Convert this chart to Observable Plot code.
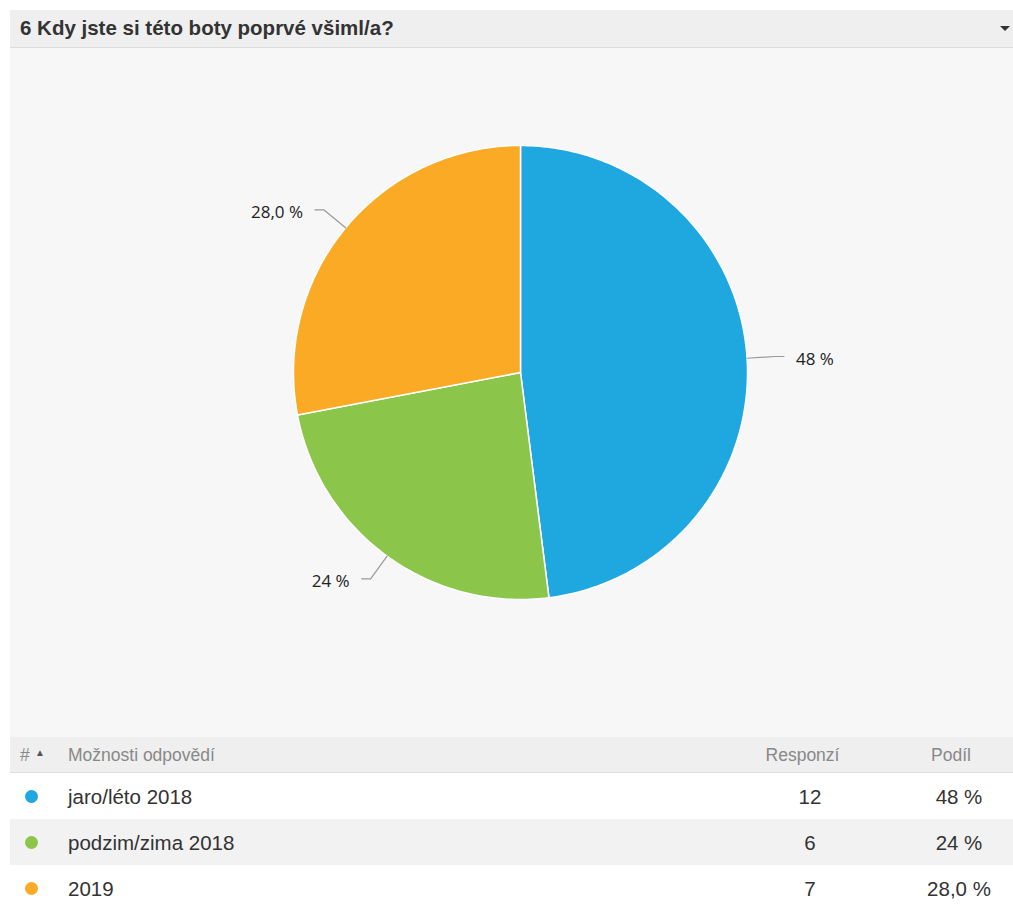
<!DOCTYPE html>
<html><head><meta charset="utf-8">
<script src="https://cdn.jsdelivr.net/npm/d3@7"></script>
<script src="https://cdn.jsdelivr.net/npm/@observablehq/plot@0.6"></script>
<style>
html,body{margin:0;padding:0;background:#fff;}
body{width:1013px;height:906px;position:relative;overflow:hidden;font-family:"Liberation Sans",Arial,sans-serif;}
#hdr{position:absolute;left:10px;top:10px;width:1003px;height:37px;background:#efefef;border-bottom:1px solid #dcdcdc;}
#hdr .t{position:absolute;left:10px;top:6px;font-weight:bold;font-size:20.5px;color:#333;}
#hdr .arr{position:absolute;right:3px;top:16px;width:0;height:0;border-left:5px solid transparent;border-right:5px solid transparent;border-top:5px solid #333;}
#chart{position:absolute;left:10px;top:48px;width:1003px;height:689px;background:#f7f7f7;}
#chart svg{display:block;}
#tbl{position:absolute;left:10px;top:737px;width:1003px;}
.row{position:relative;height:46px;}
.th{height:35px;background:#efefef;border-bottom:1px solid #dedede;color:#888;font-size:17.5px;}
.th span, .row span{position:absolute;}
.dot{width:13px;height:13px;border-radius:50%;left:15px;top:17px;}
.row .lbl{left:58px;top:12px;font-size:20.5px;color:#333;}
.row .n{left:760px;width:80px;text-align:center;top:12px;font-size:20.5px;color:#333;}
.row .p{left:899px;width:100px;text-align:center;top:12px;font-size:20.5px;color:#333;}
</style></head><body>
<div id="hdr"><div class="t">6 Kdy jste si této boty poprvé všiml/a?</div><div class="arr"></div></div>
<div id="chart"></div>
<div id="tbl"></div>
<script>
const categories = ["jaro/léto 2018", "podzim/zima 2018", "2019"];
const responses = [12, 6, 7];
const shares = [48, 24, 28];
const shareLabels = ["48 %", "24 %", "28,0 %"];
const colors = ["#1fa8e0", "#8bc64a", "#fbaa26"];

const W = 1003, H = 689, cx = 510, cy = 324, R = 227;
const pie = d3.pie().sort(null).value(d => d)(shares);

// slice polygons
const slicePts = [];
pie.forEach((p, i) => {
  slicePts.push({x: 0, y: 0, k: categories[i]});
  const n = Math.max(8, Math.ceil((p.endAngle - p.startAngle) * 60));
  for (let j = 0; j <= n; j++) {
    const a = p.startAngle + (p.endAngle - p.startAngle) * j / n;
    slicePts.push({x: R * Math.sin(a), y: -R * Math.cos(a), k: categories[i]});
  }
  slicePts.push({x: 0, y: 0, k: categories[i]});
});

// leader lines and labels
const leaderPts = [], labelPts = [];
pie.forEach((p, i) => {
  const a = (p.startAngle + p.endAngle) / 2;
  const s = Math.sin(a), c = -Math.cos(a);
  const side = s >= 0 ? 1 : -1;
  const p0 = {x: R * s, y: R * c};
  const p1 = {x: (R + 28) * s, y: (R + 28) * c};
  const end = {x: p1.x + side * 9, y: p1.y};
  [p0, p1, end].forEach(q => leaderPts.push({...q, k: categories[i]}));
  labelPts.push({x: end.x + side * 12, y: end.y + 3, text: shareLabels[i], anchor: side > 0 ? "start" : "end"});
});

const plot = Plot.plot({
  width: W, height: H,
  margin: 0,
  style: {background: "transparent"},
  x: {domain: [-cx, W - cx], range: [0, W], axis: null},
  y: {domain: [-cy, H - cy], range: [0, H], axis: null},
  color: {domain: categories, range: colors},
  marks: [
    Plot.line(slicePts, {x: "x", y: "y", z: "k", fill: "k", stroke: "#ffffff", strokeWidth: 1.5, strokeLinejoin: "round", curve: "linear"}),
    Plot.line(leaderPts, {x: "x", y: "y", z: "k", stroke: "#999999", strokeWidth: 1.2, strokeLinejoin: "round", curve: "linear"}),
    Plot.text(labelPts.filter(d => d.anchor === "start"), {x: "x", y: "y", text: "text", textAnchor: "start", fontSize: 17, fill: "#222", fontFamily: "Open Sans, DejaVu Sans, sans-serif"}),
    Plot.text(labelPts.filter(d => d.anchor === "end"), {x: "x", y: "y", text: "text", textAnchor: "end", fontSize: 17, fill: "#222", fontFamily: "Open Sans, DejaVu Sans, sans-serif"})
  ]
});
document.getElementById("chart").appendChild(plot);

// table
let html = '<div class="row th"><span style="left:10px;top:8px">#</span><span style="left:25px;top:10px;font-size:10px;color:#555">&#9650;</span><span style="left:58px;top:8px">Možnosti odpovědí</span><span style="left:740px;width:105px;text-align:center;top:8px">Responzí</span><span style="left:900px;width:82px;text-align:center;top:8px">Podíl</span></div>';
const bgs = ["#ffffff", "#f2f2f2", "#ffffff"];
categories.forEach((c, i) => {
  html += `<div class="row" style="background:${bgs[i]}"><span class="dot" style="background:${colors[i]}"></span><span class="lbl">${c}</span><span class="n">${responses[i]}</span><span class="p">${shareLabels[i]}</span></div>`;
});
document.getElementById("tbl").innerHTML = html;
</script>
</body></html>
